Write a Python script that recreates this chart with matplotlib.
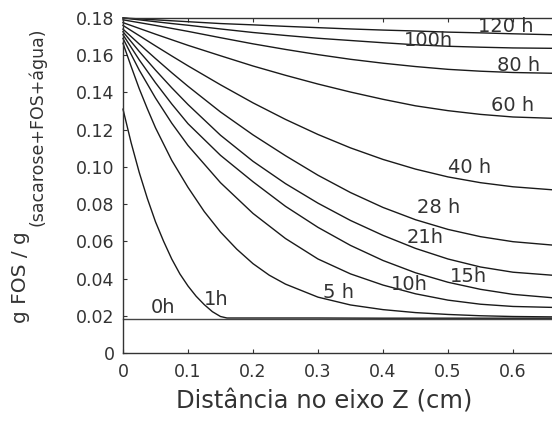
import matplotlib
matplotlib.use("Agg")
import matplotlib.pyplot as plt

# distance along Z (cm)
z = [0, 0.025, 0.05, 0.075, 0.1, 0.15, 0.2, 0.25, 0.3, 0.35,
     0.4, 0.45, 0.5, 0.55, 0.6, 0.66]
z_1h = [0, 0.0125, 0.025, 0.0375, 0.05, 0.0625, 0.075, 0.0875, 0.1, 0.1125,
        0.125, 0.1375, 0.15, 0.16, 0.2, 0.3, 0.4, 0.5, 0.6, 0.66]
z_5h = [0, 0.0125, 0.025, 0.0375, 0.05, 0.075, 0.1, 0.125, 0.15, 0.175,
        0.2, 0.225, 0.25, 0.3, 0.35, 0.4, 0.45, 0.5, 0.55, 0.6, 0.66]

fos_0h = [0.0185] * len(z)
fos_1h = [0.1310, 0.1130, 0.0970, 0.0830, 0.0705, 0.0600, 0.0505, 0.0425,
          0.0360, 0.0305, 0.0260, 0.0222, 0.0196, 0.0188, 0.0188, 0.0188,
          0.0187, 0.0187, 0.0187, 0.0187]
fos_5h = [0.1664, 0.1540, 0.1420, 0.1312, 0.1210, 0.1035, 0.0890, 0.0760,
          0.0650, 0.0558, 0.0480, 0.0418, 0.0370, 0.0300, 0.0258, 0.0233,
          0.0217, 0.0207, 0.0200, 0.0196, 0.0194]
fos_10h = [0.1690, 0.1520, 0.1370, 0.1235, 0.1115, 0.0915, 0.0750, 0.0615,
           0.0505, 0.0425, 0.0365, 0.0318, 0.0284, 0.0262, 0.0250, 0.0245]
fos_15h = [0.1710, 0.1575, 0.1452, 0.1338, 0.1232, 0.1062, 0.0920, 0.0788,
           0.0675, 0.0578, 0.0497, 0.0431, 0.0380, 0.0342, 0.0315, 0.0297]
fos_21h = [0.1726, 0.1620, 0.1520, 0.1425, 0.1335, 0.1170, 0.1030, 0.0910,
           0.0805, 0.0712, 0.0632, 0.0562, 0.0505, 0.0462, 0.0434, 0.0418]
fos_28h = [0.1740, 0.1660, 0.1582, 0.1506, 0.1433, 0.1295, 0.1172, 0.1060,
           0.0955, 0.0862, 0.0782, 0.0716, 0.0664, 0.0625, 0.0598, 0.0580]
fos_40h = [0.1760, 0.1705, 0.1650, 0.1596, 0.1543, 0.1441, 0.1344, 0.1255,
           0.1174, 0.1102, 0.1040, 0.0988, 0.0946, 0.0915, 0.0893, 0.0877]
fos_60h = [0.1775, 0.1744, 0.1713, 0.1683, 0.1653, 0.1597, 0.1542, 0.1492,
           0.1445, 0.1402, 0.1363, 0.1328, 0.1302, 0.1282, 0.1268, 0.1261]
fos_80h = [0.1790, 0.1775, 0.1760, 0.1744, 0.1728, 0.1694, 0.1661, 0.1631,
           0.1603, 0.1578, 0.1557, 0.1539, 0.1524, 0.1514, 0.1507, 0.1503]
fos_100h = [0.1800, 0.1790, 0.1780, 0.1770, 0.1761, 0.1741, 0.1722, 0.1706,
            0.1691, 0.1679, 0.1667, 0.1656, 0.1648, 0.1643, 0.1639, 0.1637]
fos_120h = [0.1800, 0.1795, 0.1790, 0.1785, 0.1780, 0.1770, 0.1763, 0.1755,
            0.1748, 0.1741, 0.1735, 0.1730, 0.1724, 0.1720, 0.1715, 0.1710]

curve_names = ["0h", "1h", "5 h", "10h", "15h", "21h", "28 h", "40 h",
               "60 h", "80 h", "100h", "120 h"]
curve_x = [z, z_1h, z_5h] + [z] * 9
curve_y = [fos_0h, fos_1h, fos_5h, fos_10h, fos_15h, fos_21h, fos_28h,
           fos_40h, fos_60h, fos_80h, fos_100h, fos_120h]
# where each time label sits (z, fraction)
label_pos = [(0.062, 0.0242), (0.144, 0.0285), (0.331, 0.0325),
             (0.440, 0.0368), (0.531, 0.0410), (0.465, 0.0620),
             (0.485, 0.0780), (0.533, 0.0997), (0.600, 0.1330),
             (0.608, 0.1545), (0.470, 0.1680), (0.589, 0.1754)]

yticks = [0, 0.02, 0.04, 0.06, 0.08, 0.10, 0.12, 0.14, 0.16, 0.18]
ytick_labels = ["0", "0.02", "0.04", "0.06", "0.08", "0.10", "0.12",
                "0.14", "0.16", "0.18"]
xticks = [0, 0.1, 0.2, 0.3, 0.4, 0.5, 0.6]
xtick_labels = ["0", "0.1", "0.2", "0.3", "0.4", "0.5", "0.6"]

plt.rcParams['font.family'] = ['DejaVu Sans']

fig = plt.figure(figsize=(5.52, 4.30), dpi=100)
ax = fig.add_axes([0.2228, 0.1791, 0.7772, 0.7791])

for i in range(len(curve_names)):
    c = '#444444' if i == 0 else '#1a1a1a'
    ax.plot(curve_x[i], curve_y[i], color=c, linewidth=1.0, clip_on=False)
    ax.text(label_pos[i][0], label_pos[i][1], curve_names[i], fontsize=14,
            color='#333333', ha='center', va='center')

ax.set_xlim(0, 0.66)
ax.set_ylim(0, 0.18)
ax.set_xticks(xticks)
ax.set_xticklabels(xtick_labels)
ax.set_yticks(yticks)
ax.set_yticklabels(ytick_labels)
ax.tick_params(direction='in', length=3, width=0.8, colors='#333333',
               labelsize=12.5, top=True, right=False)
ax.tick_params(axis='x', pad=7)
ax.tick_params(axis='y', pad=6)
ax.spines['right'].set_visible(False)
for s in ['left', 'bottom', 'top']:
    ax.spines[s].set_color('#333333')
    ax.spines[s].set_linewidth(1.0)

fig.text(323.7 / 552, 1 - 401 / 430, "Distância no eixo Z (cm)",
         fontsize=17.5, color='#333333', ha='center', va='center')
fig.text(21 / 552, 1 - 277.5 / 430, "g FOS / g", fontsize=14.5,
         color='#333333', rotation=90, ha='center', va='center')
fig.text(37 / 552, 1 - 127 / 430, "(sacarose+FOS+água)", fontsize=12.5,
         color='#333333', rotation=90, ha='center', va='center')

fig.savefig("out.png", dpi=100)
